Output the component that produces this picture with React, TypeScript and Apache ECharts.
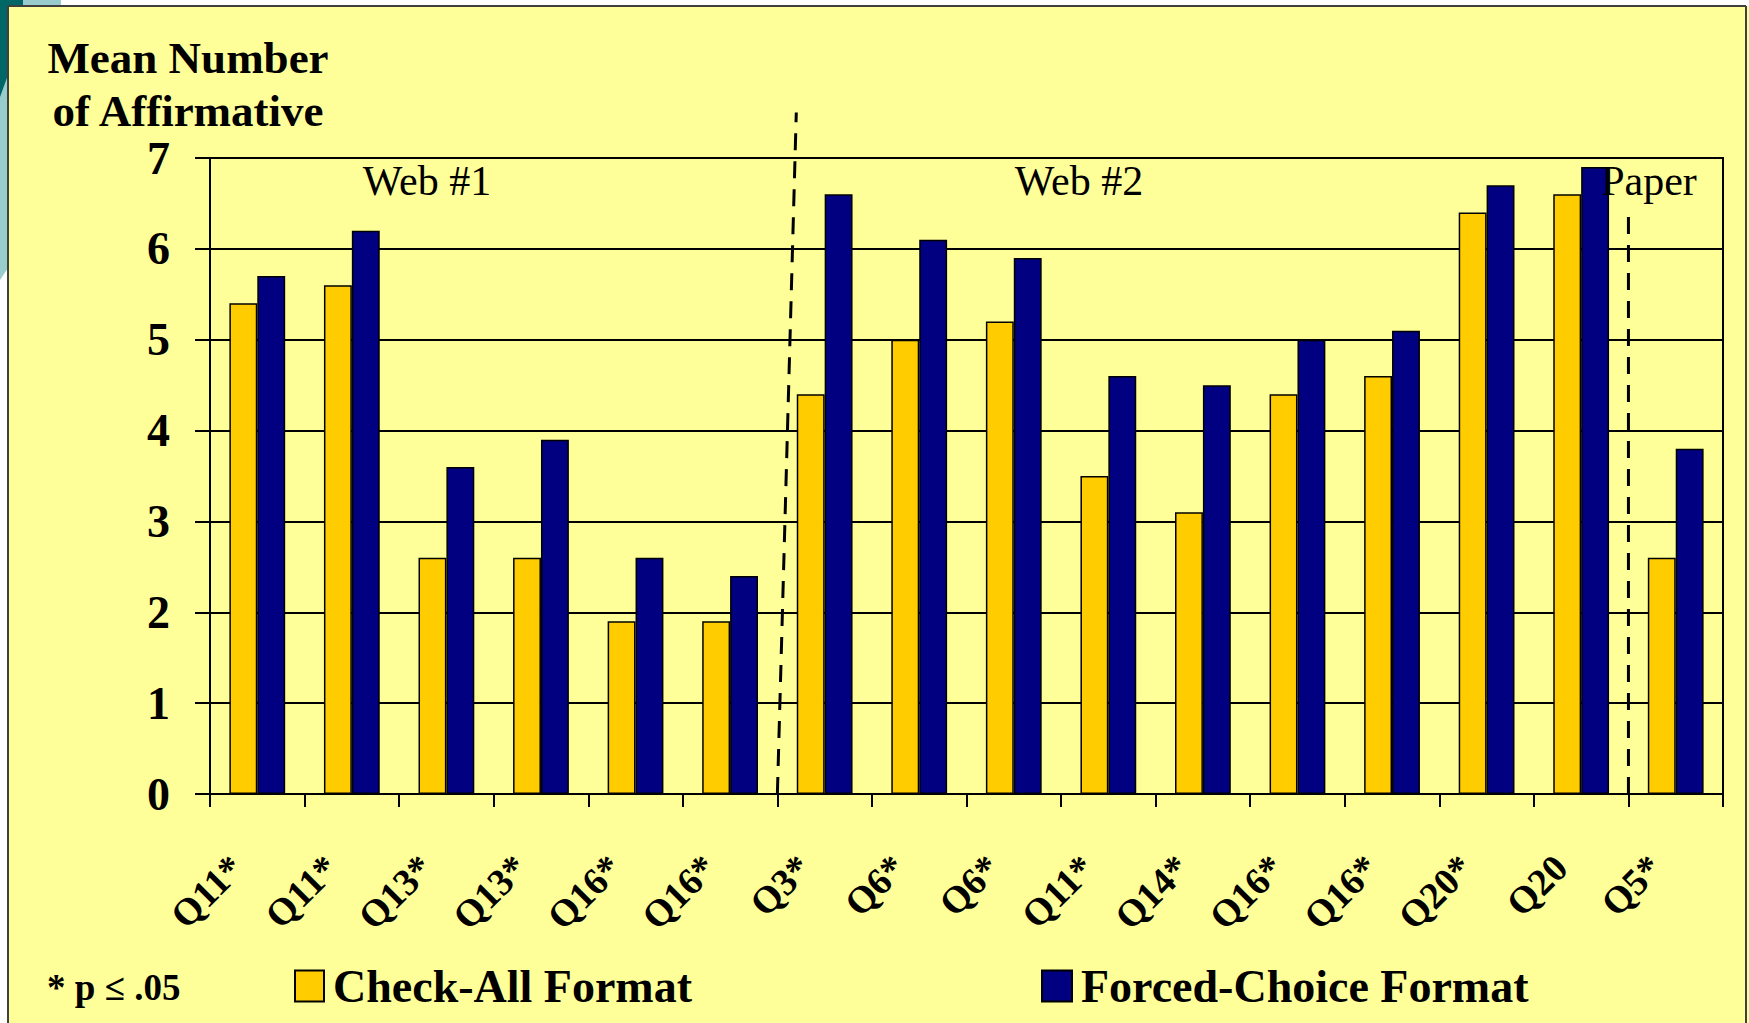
import React, { useEffect, useRef } from "react";
import * as echarts from "echarts";

const categories = ["Q11*", "Q11*", "Q13*", "Q13*", "Q16*", "Q16*", "Q3*", "Q6*", "Q6*", "Q11*", "Q14*", "Q16*", "Q16*", "Q20*", "Q20", "Q5*"];
const checkAll = [5.4, 5.6, 2.6, 2.6, 1.9, 1.9, 4.4, 5.0, 5.2, 3.5, 3.1, 4.4, 4.6, 6.4, 6.6, 2.6];
const forcedChoice = [5.7, 6.2, 3.6, 3.9, 2.6, 2.4, 6.6, 6.1, 5.9, 4.6, 4.5, 5.0, 5.1, 6.7, 6.9, 3.8];
const yTicks = [0, 1, 2, 3, 4, 5, 6, 7];
// separator lines, in [category-boundary, value] units
const separatorWeb = [[6.0, 0], [6.2, 7.5]];
const separatorPaper = [[15.0, 0], [15.0, 6.35]];

const FONT = '"Liberation Serif", "Times New Roman", serif';

export default function App() {
  const ref = useRef<HTMLDivElement>(null);
  useEffect(() => {
    if (!ref.current) return;
    const chart = echarts.init(ref.current, null, { renderer: "svg" });
    const dashLine = {
      type: "line",
      xAxisIndex: 1,
      yAxisIndex: 0,
      symbol: "none",
      silent: true,
      clip: false,
      z: 5,
      lineStyle: { color: "#000", width: 3, type: [17, 11] },
    };
    const legendText = { fontSize: 46, fontWeight: "bold", fontFamily: FONT, color: "#000", padding: [0, 0, 0, 4] };
    chart.setOption({
      animation: false,
      backgroundColor: "#FFFF99",
      textStyle: { fontFamily: FONT },
      grid: {
        left: 210,
        right: 26,
        top: 158,
        bottom: 229,
        show: true,
        borderColor: "#000",
        borderWidth: 2,
        backgroundColor: "transparent",
      },
      legend: [
        {
          data: ["Check-All Format"],
          left: 294,
          top: 963,
          padding: 0,
          itemWidth: 29,
          itemHeight: 31,
          icon: "rect",
          selectedMode: false,
          textStyle: legendText,
        },
        {
          data: ["Forced-Choice Format"],
          left: 1041,
          top: 963,
          padding: 0,
          itemWidth: 30,
          itemHeight: 31,
          icon: "rect",
          selectedMode: false,
          textStyle: legendText,
        },
      ],
      xAxis: [
        {
          type: "category",
          data: categories,
          axisLine: { lineStyle: { color: "#000", width: 2 } },
          axisTick: { show: true, length: 13, lineStyle: { color: "#000", width: 2 } },
          axisLabel: {
            interval: 0,
            rotate: 45,
            margin: 47,
            padding: [0, 29, 0, 0],
            fontSize: 38,
            fontWeight: "bold",
            fontFamily: FONT,
            color: "#000",
          },
          splitLine: { show: false },
        },
        { type: "value", min: 0, max: 16, show: false },
      ],
      yAxis: {
        type: "value",
        min: yTicks[0],
        max: yTicks[yTicks.length - 1],
        interval: 1,
        axisLine: { show: true, lineStyle: { color: "#000", width: 2 } },
        axisTick: { show: true, length: 15, lineStyle: { color: "#000", width: 2 } },
        axisLabel: { margin: 40, fontSize: 46, fontWeight: "bold", fontFamily: FONT, color: "#000" },
        splitLine: { show: true, lineStyle: { color: "#000", width: 2 } },
      },
      series: [
        {
          name: "Check-All Format",
          type: "bar",
          data: checkAll,
          barGap: "0%",
          barCategoryGap: "41%",
          itemStyle: { color: "#FFCC00", borderColor: "#000", borderWidth: 1.5 },
        },
        {
          name: "Forced-Choice Format",
          type: "bar",
          data: forcedChoice,
          barGap: "0%",
          barCategoryGap: "41%",
          itemStyle: { color: "#000080", borderColor: "#000", borderWidth: 1.5 },
        },
        { ...dashLine, data: separatorWeb },
        { ...dashLine, data: separatorPaper },
      ],
      graphic: [
        { type: "rect", shape: { x: 0, y: 0, width: 1749, height: 6 }, style: { fill: "#fff" }, z: 20 },
        { type: "rect", shape: { x: 0, y: 0, width: 8, height: 1023 }, style: { fill: "#fff" }, z: 20 },
        { type: "polygon", shape: { points: [[0, 0], [61, 0], [61, 6], [8, 6], [8, 268], [0, 280]] }, style: { fill: "#99CCCC" }, z: 21 },
        { type: "polygon", shape: { points: [[0, 0], [23, 0], [23, 6], [8, 6], [8, 75], [0, 97]] }, style: { fill: "#006666" }, z: 22 },
        { type: "line", shape: { x1: 8, y1: 6, x2: 8, y2: 1023 }, style: { stroke: "#404040", lineWidth: 2 }, z: 23 },
        { type: "line", shape: { x1: 8, y1: 6, x2: 1746, y2: 6 }, style: { stroke: "#404040", lineWidth: 2 }, z: 23 },
        { type: "line", shape: { x1: 1746, y1: 6, x2: 1746, y2: 1023 }, style: { stroke: "#404040", lineWidth: 2 }, z: 23 },
        {
          type: "text", x: 188, y: 58, z: 10,
          style: {
            text: "Mean Number", fontSize: 45, lineHeight: 40, fontWeight: "bold", fontFamily: FONT, fill: "#000",
            align: "center", verticalAlign: "middle",
          },
        },
        {
          type: "text", x: 188, y: 111, z: 10,
          style: {
            text: "of Affirmative", fontSize: 45, lineHeight: 40, fontWeight: "bold", fontFamily: FONT, fill: "#000",
            align: "center", verticalAlign: "middle",
          },
        },
        {
          type: "text", x: 427, y: 181, z: 10,
          style: { text: "Web #1", fontSize: 42, fontFamily: FONT, fill: "#000", align: "center", verticalAlign: "middle" },
        },
        {
          type: "text", x: 1079, y: 181, z: 10,
          style: { text: "Web #2", fontSize: 42, fontFamily: FONT, fill: "#000", align: "center", verticalAlign: "middle" },
        },
        {
          type: "text", x: 1649, y: 181, z: 10,
          style: { text: "Paper", fontSize: 42, fontFamily: FONT, fill: "#000", align: "center", verticalAlign: "middle" },
        },
        {
          type: "text", x: 47, y: 987, z: 10,
          style: { text: "* p \u2264 .05", fontSize: 37, fontWeight: "bold", fontFamily: FONT, fill: "#000", align: "left", verticalAlign: "middle" },
        },
      ],
    });
    return () => chart.dispose();
  }, []);
  return <div ref={ref} style={{ width: 1749, height: 1023, position: "absolute", left: 0, top: 0 }} />;
}
